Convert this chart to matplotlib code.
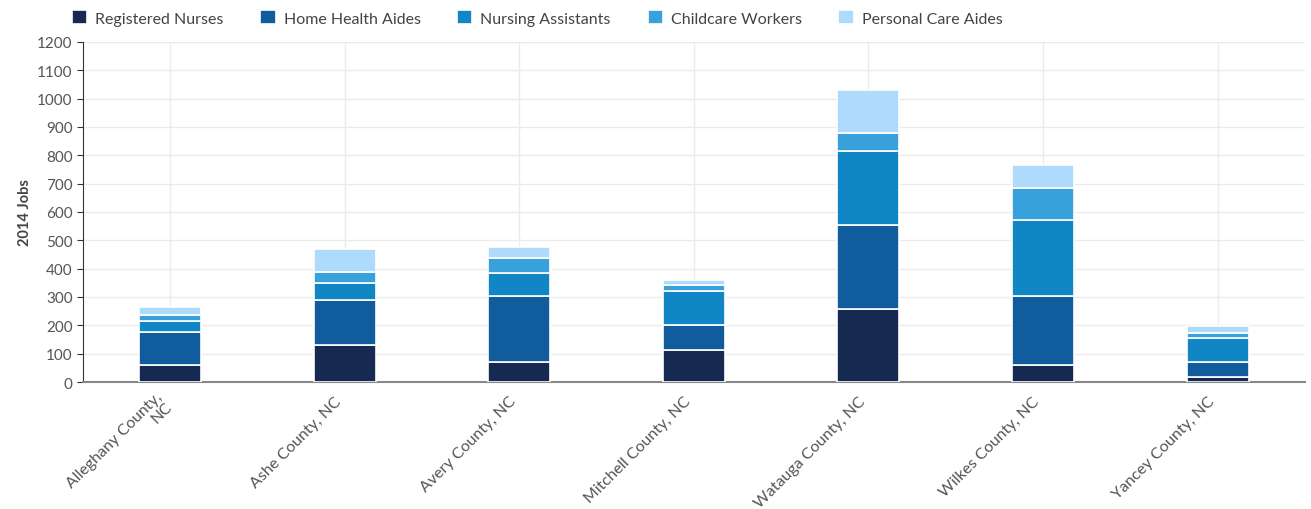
import matplotlib.pyplot as plt
import numpy as np

plt.rcParams['font.family'] = ['Lato', 'DejaVu Sans']

# counties on the x axis
counties = ['Alleghany County,\nNC', 'Ashe County, NC', 'Avery County, NC',
            'Mitchell County, NC', 'Watauga County, NC', 'Wilkes County, NC',
            'Yancey County, NC']

# 2014 jobs per occupation, one list per series
registered_nurses = [60, 130, 70, 114, 257, 60, 17]
home_health_aides = [118, 159, 232, 88, 297, 242, 52]
nursing_assistants = [38, 59, 82, 120, 262, 270, 87]
childcare_workers = [21, 41, 55, 21, 61, 114, 17]
personal_care_aides = [28, 81, 36, 18, 152, 79, 23]

series_names = ['Registered Nurses', 'Home Health Aides', 'Nursing Assistants',
                'Childcare Workers', 'Personal Care Aides']
series = [registered_nurses, home_health_aides, nursing_assistants,
          childcare_workers, personal_care_aides]
colors = ['#162950', '#115c9c', '#1186c4', '#38a1dc', '#aedafc']

fig = plt.figure(figsize=(13.11, 5.1), dpi=100)
ax = fig.add_axes([0.0633, 0.249, 0.932, 0.667])

x = np.arange(len(counties))
bottom = np.zeros(len(counties))
handles = []
for name, vals, col in zip(series_names, series, colors):
    b = ax.bar(x, vals, width=0.355, bottom=bottom, color=col,
               edgecolor='white', linewidth=1.2, label=name, zorder=3)
    handles.append(b)
    bottom += np.array(vals)

ax.set_xlim(-0.5, len(counties) - 0.5)
ax.set_ylim(0, 1200)
ax.set_yticks(np.arange(0, 1201, 100))
ax.set_xticks(x)
ax.set_xticklabels([])
# rotated category labels, placed by hand so they end just left of the bar centre
for xi, name in zip(x, counties):
    ax.annotate(name, xy=(xi, 0), xycoords=('data', 'axes fraction'),
                xytext=(-4, -12), textcoords='offset points',
                rotation=45, ha='right', va='center', rotation_mode='anchor',
                color='#555555', fontsize=11.5, linespacing=1.0)
ax.tick_params(axis='y', labelsize=11, labelcolor='#555555', length=4,
               color='#333333')
ax.tick_params(axis='x', length=0)

ax.grid(True, color='#ebebeb', linewidth=1, zorder=0)
for s in ['top', 'right']:
    ax.spines[s].set_visible(False)
ax.spines['left'].set_color('#333333')
ax.spines['bottom'].set_color('#888888')
ax.spines['bottom'].set_linewidth(1.5)

ax.set_ylabel('2014 Jobs', color='#444444', fontsize=10.5, fontweight='bold')

fig.legend(handles=handles, labels=series_names, loc='center left',
           bbox_to_anchor=(0.055, 0.963), ncol=5, frameon=False,
           handlelength=0.95, handleheight=0.95, columnspacing=2.3,
           handletextpad=0.5, prop={'size': 11.5}, labelcolor='#444444',
           borderaxespad=0, borderpad=0)

fig.savefig('out.png', dpi=100)
